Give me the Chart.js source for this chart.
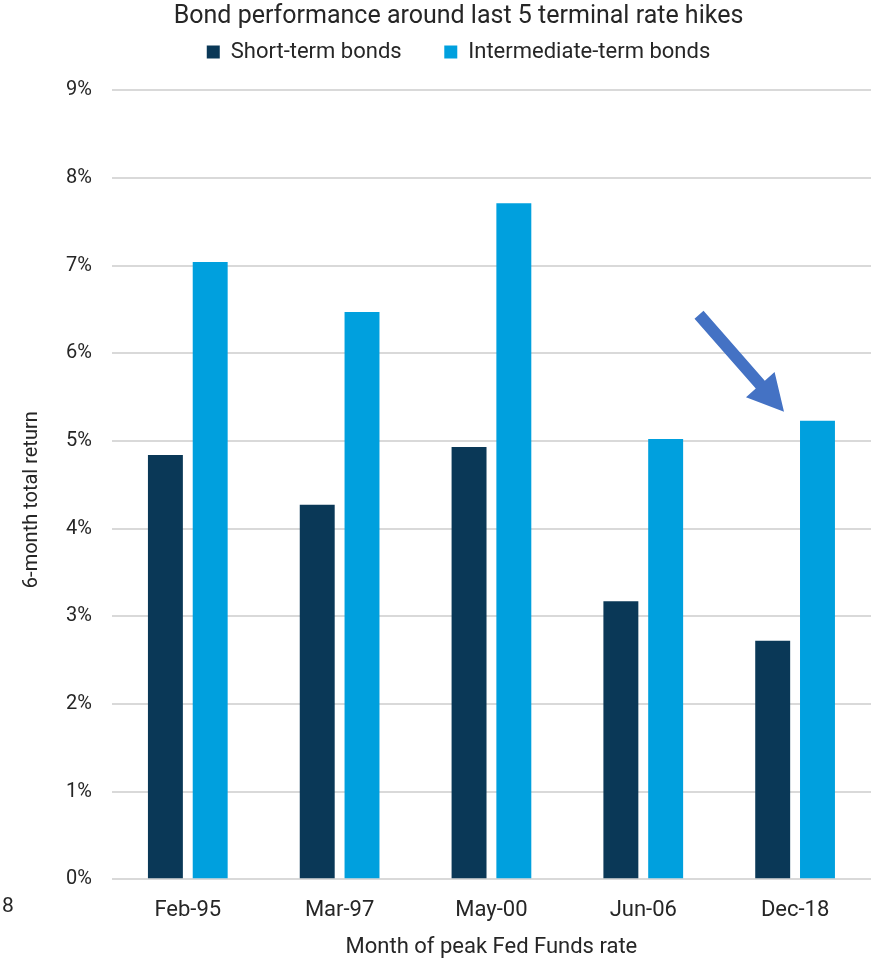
<!DOCTYPE html>
<html>
<head>
<meta charset="utf-8">
<script src="https://cdn.jsdelivr.net/npm/chart.js@4/dist/chart.umd.min.js"></script>
<style>
  html, body { margin: 0; padding: 0; background: #fff; }
  #wrap { width: 877px; height: 959px; }
</style>
</head>
<body>
<div id="wrap"><canvas id="myChart" width="877" height="959"></canvas></div>
<script>
const months = ["Feb-95", "Mar-97", "May-00", "Jun-06", "Dec-18"];
const shortTerm = [4.84, 4.27, 4.93, 3.17, 2.72];
const intermediateTerm = [7.04, 6.47, 7.71, 5.02, 5.23];
const yTicks = [0, 1, 2, 3, 4, 5, 6, 7, 8, 9];

const colors = {
  navy: "#0a3857",
  sky: "#00a0de",
  grid: "#d9d9d9",
  text: "#262626",
  arrow: "#4472c4",
};

const fontFamily = "Roboto, 'Liberation Sans', sans-serif";

// arrow at the last intermediate-term bar, plus the y axis title
const extrasPlugin = {
  id: "extras",
  afterDatasetsDraw(chart) {
    const ctx = chart.ctx;
    const area = chart.chartArea;
    const bar = chart.getDatasetMeta(1).data[4];
    if (bar) {
      const tipX = bar.x - bar.width / 2 - 16;
      const tipY = bar.y - 9;
      const tailX = tipX - 85;
      const tailY = tipY - 97;
      const ang = Math.atan2(tipY - tailY, tipX - tailX);
      const len = Math.hypot(tipX - tailX, tipY - tailY);
      const shaft = 6, headLen = 36, headHalf = 19;
      ctx.save();
      ctx.translate(tailX, tailY);
      ctx.rotate(ang);
      ctx.beginPath();
      ctx.moveTo(0, -shaft);
      ctx.lineTo(len - headLen, -shaft);
      ctx.lineTo(len - headLen, -headHalf);
      ctx.lineTo(len, 0);
      ctx.lineTo(len - headLen, headHalf);
      ctx.lineTo(len - headLen, shaft);
      ctx.lineTo(0, shaft);
      ctx.closePath();
      ctx.fillStyle = colors.arrow;
      ctx.fill();
      ctx.restore();
    }

    const labelY = area.bottom + 30;
    ctx.save();
    ctx.fillStyle = colors.text;
    ctx.font = "20px " + fontFamily;
    ctx.textAlign = "center";
    ctx.textBaseline = "middle";
    ctx.translate(32, (area.top + labelY) / 2);
    ctx.rotate(-Math.PI / 2);
    ctx.fillText("6-month total return", 0, 0);
    ctx.restore();

    // cropped label fragment at the left edge
    ctx.save();
    ctx.font = "21px " + fontFamily;
    ctx.fillStyle = colors.text;
    ctx.textBaseline = "middle";
    ctx.fillText("8", 2, labelY - 2);
    ctx.restore();
  },
};

const ctx = document.getElementById("myChart").getContext("2d");
new Chart(ctx, {
  type: "bar",
  data: {
    labels: months,
    datasets: [
      {
        label: "Short-term bonds",
        data: shortTerm,
        backgroundColor: colors.navy,
        categoryPercentage: 0.59,
        barPercentage: 0.78,
      },
      {
        label: "Intermediate-term bonds",
        data: intermediateTerm,
        backgroundColor: colors.sky,
        categoryPercentage: 0.59,
        barPercentage: 0.78,
      },
    ],
  },
  options: {
    responsive: false,
    animation: false,
    layout: { padding: { left: 46, right: 6, top: 2, bottom: -2 } },
    plugins: {
      title: {
        display: true,
        text: "Bond performance around last 5 terminal rate hikes",
        color: colors.text,
        font: { family: fontFamily, size: 25, weight: "normal" },
        padding: { top: 0, bottom: 0 },
      },
      // spacer between legend and plot
      subtitle: {
        display: true,
        text: " ",
        weight: 500,
        font: { size: 1 },
        padding: { top: 16, bottom: 0 },
      },
      legend: {
        labels: {
          color: colors.text,
          font: { family: fontFamily, size: 22 },
          boxWidth: 13,
          boxHeight: 13,
          padding: 9,
          generateLabels(chart) {
            const items = Chart.defaults.plugins.legend.labels.generateLabels(chart);
            items[0].text = items[0].text + "\u2002\u2002\u2002";
            return items;
          },
        },
      },
      tooltip: { enabled: false },
    },
    scales: {
      x: {
        grid: { display: false, drawTicks: false },
        border: { display: false },
        ticks: {
          color: colors.text,
          font: { family: fontFamily, size: 22 },
          padding: 18,
        },
        title: {
          display: true,
          text: "Month of peak Fed Funds rate",
          color: colors.text,
          font: { family: fontFamily, size: 22 },
          padding: { top: -7, bottom: 0 },
        },
      },
      y: {
        min: 0,
        max: 9,
        afterBuildTicks(axis) {
          axis.ticks = yTicks.map((v) => ({ value: v }));
        },
        grid: { color: colors.grid, lineWidth: 2, drawTicks: false },
        border: { display: false },
        ticks: {
          color: colors.text,
          font: { family: fontFamily, size: 20 },
          padding: 20,
          callback: (v) => v + "%",
        },
      },
    },
  },
  plugins: [extrasPlugin],
});
</script>
</body>
</html>
